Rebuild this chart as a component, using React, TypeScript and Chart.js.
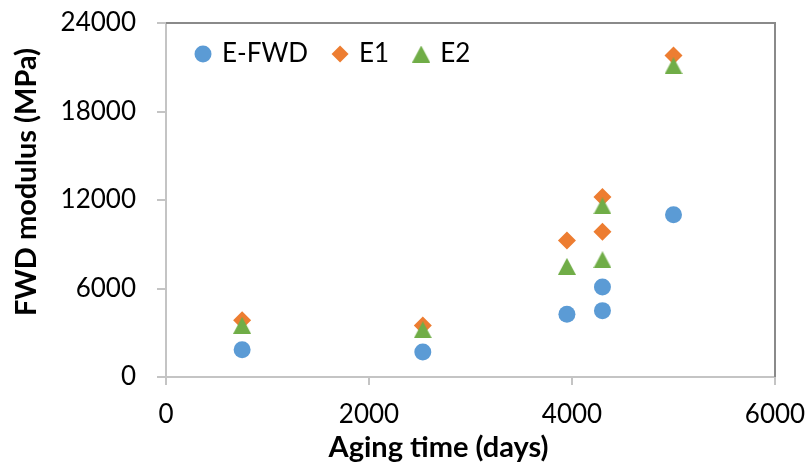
import React, { useEffect, useRef } from "react";
import { Chart, registerables } from "chart.js";

Chart.register(...registerables);

// ---- data ----
const agingDays = [750, 2530, 3950, 4300, 4300, 5000];
const eFwd = [1850, 1700, 4250, 6100, 4500, 11000];
const e1 = [3850, 3500, 9250, 12200, 9850, 21800];
const e2 = [3500, 3200, 7500, 11600, 7950, 21100];
const seriesNames = ["E-FWD", "E1", "E2"];
const xTicks = [0, 2000, 4000, 6000];
const yTicks = [0, 6000, 12000, 18000, 24000];
const xTitle = "Aging time (days)";
const yTitle = "FWD modulus (MPa)";

const BLUE = "#5b9bd5";
const ORANGE = "#ed7d31";
const GREEN = "#70ad47";
const AXIS = "#c4c4c4";
const FRAME = "#8a8a8a";
const FONT = "Lato, 'Open Sans', sans-serif";

function makeTriangle(color: string) {
  const c = document.createElement("canvas");
  c.width = 18;
  c.height = 17;
  const ctx = c.getContext("2d")!;
  ctx.fillStyle = color;
  ctx.beginPath();
  ctx.moveTo(9, 0);
  ctx.lineTo(18, 17);
  ctx.lineTo(0, 17);
  ctx.closePath();
  ctx.fill();
  return c;
}

const toPoints = (ys: number[]) => agingDays.map((x, i) => ({ x, y: ys[i] }));

const framePlugin = {
  id: "frame",
  beforeDatasetsDraw(chart: any) {
    const { ctx, chartArea } = chart;
    ctx.save();
    ctx.strokeStyle = FRAME;
    ctx.lineWidth = 2;
    ctx.beginPath();
    ctx.moveTo(chartArea.left, chartArea.top);
    ctx.lineTo(chartArea.right, chartArea.top);
    ctx.lineTo(chartArea.right, chartArea.bottom);
    ctx.stroke();
    ctx.restore();
  },
};

const legendPosPlugin = {
  id: "legendPos",
  beforeLayout(chart: any) {
    const lg = chart.legend;
    if (lg) lg.isHorizontal = () => true;
  },
  afterLayout(chart: any) {
    const lg = chart.legend;
    if (!lg) return;
    const ca = chart.chartArea;
    lg.left = ca.left + 5;
    lg.top = ca.top - 8;
  },
};

const titlesPlugin = {
  id: "axisTitles",
  afterDraw(chart: any) {
    const { ctx, chartArea } = chart;
    ctx.save();
    ctx.font = `bold 29px ${FONT}`;
    ctx.fillStyle = "#000";
    ctx.textAlign = "center";
    ctx.textBaseline = "alphabetic";
    const cx = (chartArea.left + chartArea.right) / 2 - 32;
    ctx.fillText(xTitle, cx, chartArea.bottom + 80);
    ctx.translate(36, (chartArea.top + chartArea.bottom) / 2 - 18);
    ctx.rotate(-Math.PI / 2);
    ctx.fillText(yTitle, 0, 0);
    ctx.restore();
  },
};

export default function App() {
  const ref = useRef<HTMLCanvasElement | null>(null);

  useEffect(() => {
    if (!ref.current) return;
    const tri = makeTriangle(GREEN);
    const chart = new Chart(ref.current, {
      type: "scatter",
      data: {
        datasets: [
          {
            label: seriesNames[0],
            data: toPoints(eFwd),
            pointStyle: "circle",
            pointRadius: 8.5,
            backgroundColor: BLUE,
            borderColor: BLUE,
            borderWidth: 0,
            order: 2,
          },
          {
            label: seriesNames[1],
            data: toPoints(e1),
            pointStyle: "rectRot",
            pointRadius: 9,
            backgroundColor: ORANGE,
            borderColor: ORANGE,
            borderWidth: 0,
            order: 1,
          },
          {
            label: seriesNames[2],
            data: toPoints(e2),
            pointStyle: tri as any,
            pointRadius: 9,
            backgroundColor: GREEN,
            borderColor: GREEN,
            borderWidth: 0,
            order: 0,
          },
        ],
      },
      options: {
        responsive: false,
        animation: false,
        layout: { padding: { top: 23, right: 35, left: 0, bottom: 0 } },
        plugins: {
          tooltip: { enabled: false },
          legend: {
            position: "chartArea" as any,
            align: "start",
            labels: {
              usePointStyle: true,
              boxWidth: 12,
              boxHeight: 12,
              padding: 26,
              color: "#000",
              font: { family: FONT, size: 26 },
              sort: (a: any, b: any) => a.datasetIndex - b.datasetIndex,
            },
          },
        },
        scales: {
          x: {
            type: "linear",
            min: xTicks[0],
            max: xTicks[xTicks.length - 1],
            ticks: {
              stepSize: xTicks[1] - xTicks[0],
              color: "#000",
              font: { family: FONT, size: 26 },
              padding: 14,
              callback: (v: any) => String(v),
            },
            grid: {
              drawOnChartArea: false,
              drawTicks: true,
              tickLength: 8,
              color: AXIS,
              lineWidth: 2,
            },
            border: { display: true, color: AXIS, width: 2 },
            afterFit: (s: any) => {
              s.height = 96;
              s.paddingLeft = 0;
              s.paddingRight = 0;
            },
          },
          y: {
            type: "linear",
            min: yTicks[0],
            max: yTicks[yTicks.length - 1],
            ticks: {
              stepSize: yTicks[1] - yTicks[0],
              color: "#000",
              font: { family: FONT, size: 26 },
              padding: 21,
              callback: (v: any) => String(v),
            },
            grid: {
              drawOnChartArea: false,
              drawTicks: true,
              tickLength: 9,
              color: AXIS,
              lineWidth: 2,
            },
            border: { display: true, color: AXIS, width: 2 },
            afterFit: (s: any) => {
              s.width = 166;
              s.paddingTop = 0;
              s.paddingBottom = 0;
            },
          },
        },
      },
      plugins: [framePlugin, legendPosPlugin, titlesPlugin],
    });
    return () => chart.destroy();
  }, []);

  return (
    <div style={{ position: "absolute", left: 0, top: 0, width: 810, height: 473, background: "#fff" }}>
      <canvas ref={ref} width={810} height={473} style={{ display: "block" }} />
    </div>
  );
}
